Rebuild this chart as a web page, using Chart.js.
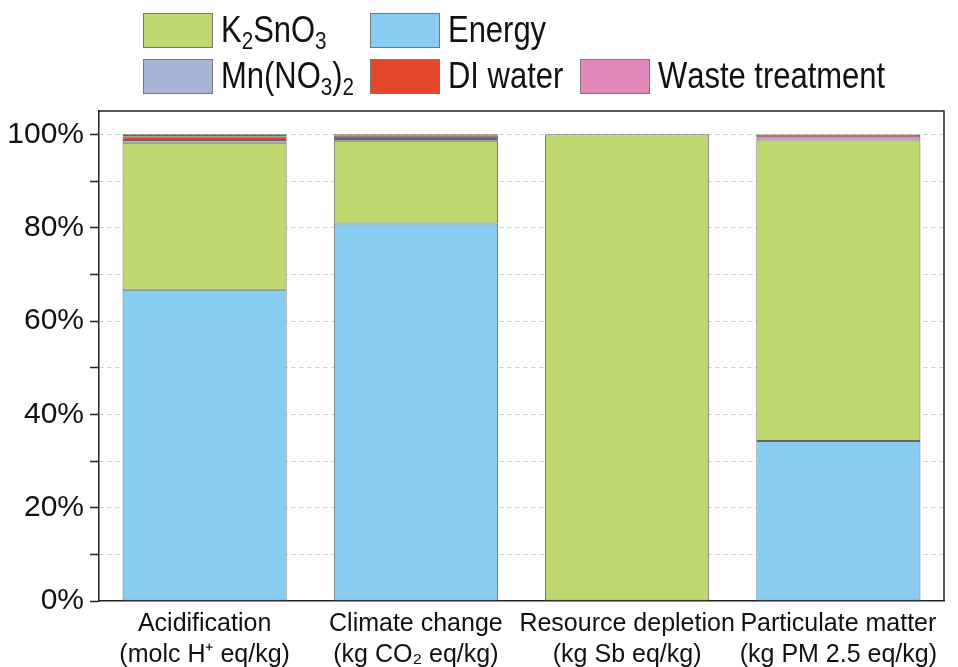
<!DOCTYPE html>
<html>
<head>
<meta charset="utf-8">
<script src="https://cdn.jsdelivr.net/npm/chart.js@4.4.1/dist/chart.umd.min.js"></script>
<style>
  html, body { margin: 0; padding: 0; background: #fff; }
  #wrap { width: 958px; height: 667px; position: relative; }
</style>
</head>
<body>
<div id="wrap"><canvas id="c"></canvas></div>
<script>
// ---- data ----
const categories = [
  ['Acidification', '(molc H\u207A eq/kg)'],
  ['Climate change', '(kg CO\u2082 eq/kg)'],
  ['Resource depletion', '(kg Sb eq/kg)'],
  ['Particulate matter', '(kg PM 2.5 eq/kg)']
];
const energy = [66.7, 80.9, 0, 34.3];
const k2sno3 = [31.5, 17.7, 100, 64.4];
const wasteTreatment = [0.6, 0.4, 0, 0.7];
const diWater = [0.8, 0.7, 0, 0.5];
const mnNO3 = [0.4, 0.3, 0, 0.1];
const yTickValues = [0, 20, 40, 60, 80, 100];

// ---- styles ----
const colors = {
  energy: '#88CCEF',
  k2sno3: '#BED76E',
  waste: '#E189BA',
  di: '#E4472A',
  mn: '#A7B4D8'
};

const datasets = [
  { label: 'Energy', data: energy, backgroundColor: colors.energy },
  { label: 'K\u2082SnO\u2083', data: k2sno3, backgroundColor: colors.k2sno3 },
  { label: 'Waste treatment', data: wasteTreatment, backgroundColor: colors.waste },
  { label: 'DI water', data: diWater, backgroundColor: colors.di },
  { label: 'Mn(NO\u2083)\u2082', data: mnNO3, backgroundColor: colors.mn }
].map(d => Object.assign(d, {
  borderColor: '#666', borderWidth: 1, borderSkipped: false,
  categoryPercentage: 1, barPercentage: 0.777
}));

// legend layout: rows of [datasetLabel, boxX]
const legendRows = [
  { y: 13, items: [['K\u2082SnO\u2083', 143], ['Energy', 370]] },
  { y: 59, items: [['Mn(NO\u2083)\u2082', 143], ['DI water', 370], ['Waste treatment', 580]] }
];

const subMap = {'\u2080':'0','\u2081':'1','\u2082':'2','\u2083':'3','\u2084':'4','\u2085':'5','\u2086':'6','\u2087':'7','\u2088':'8','\u2089':'9'};

function drawRichText(ctx, text, x, baseline, size) {
  let cx = x;
  for (const ch of text) {
    if (subMap[ch]) {
      ctx.font = `${Math.round(size * 0.68)}px "Liberation Sans", Arial, sans-serif`;
      ctx.fillText(subMap[ch], cx, baseline + size * 0.2);
      cx += ctx.measureText(subMap[ch]).width;
    } else {
      ctx.font = `${size}px "Liberation Sans", Arial, sans-serif`;
      ctx.fillText(ch, cx, baseline);
      cx += ctx.measureText(ch).width;
    }
  }
}

const legendPlugin = {
  id: 'customLegend',
  afterDraw(chart) {
    const ctx = chart.ctx;
    const byLabel = {};
    chart.data.datasets.forEach(d => byLabel[d.label] = d);
    ctx.save();
    legendRows.forEach(row => {
      row.items.forEach(([label, bx]) => {
        const ds = byLabel[label];
        ctx.fillStyle = ds.backgroundColor;
        ctx.fillRect(bx, row.y, 70, 35);
        ctx.strokeStyle = '#777';
        ctx.lineWidth = 1;
        ctx.strokeRect(bx + 0.5, row.y + 0.5, 69, 34);
        ctx.fillStyle = '#111';
        ctx.textBaseline = 'alphabetic';
        ctx.textAlign = 'left';
        ctx.save();
        const tx = bx + 78;
        ctx.translate(tx, 0);
        ctx.scale(0.86, 1);
        drawRichText(ctx, label, 0, row.y + 29, 36);
        ctx.restore();
      });
    });
    ctx.restore();
  }
};

const framePlugin = {
  id: 'frame',
  afterDatasetsDraw(chart) {
    const { ctx, chartArea: a } = chart;
    ctx.save();
    ctx.strokeStyle = '#222';
    ctx.lineWidth = 1.5;
    ctx.beginPath();
    ctx.moveTo(a.left, a.top);
    ctx.lineTo(a.right, a.top);
    ctx.lineTo(a.right, a.bottom);
    ctx.stroke();
    ctx.restore();
  }
};

new Chart(document.getElementById('c'), {
  type: 'bar',
  data: { labels: categories, datasets },
  plugins: [legendPlugin, framePlugin],
  options: {
    responsive: true,
    maintainAspectRatio: false,
    animation: false,
    layout: { padding: { top: 111, right: 14, bottom: 0, left: 0 } },
    plugins: { legend: { display: false }, tooltip: { enabled: false } },
    scales: {
      x: {
        stacked: true,
        grid: { display: false, drawTicks: false },
        border: { display: true, color: '#222', width: 1.5 },
        ticks: {
          color: '#111',
          padding: 8,
          maxRotation: 0,
          autoSkip: false,
          font: { family: '"Liberation Sans", Arial, sans-serif', size: 25, lineHeight: 1.22 }
        },
        afterFit: s => { s.height = 66; }
      },
      y: {
        stacked: true,
        min: 0,
        max: 105,
        afterFit: s => { s.width = 99; },
        grid: {
          color: ctx => ctx.tick && ctx.tick.value === 0 ? 'rgba(0,0,0,0)' : '#cfcfcf',
          lineWidth: 1,
          tickColor: '#222',
          tickLength: 9,
          tickWidth: 1.5,
          tickBorderDash: []
        },
        border: { display: true, color: '#222', width: 1.5, dash: [4, 4] },
        ticks: {
          stepSize: 10,
          includeBounds: false,
          padding: 6,
          color: '#111',
          font: { family: '"Liberation Sans", Arial, sans-serif', size: 30 },
          callback: v => yTickValues.includes(v) ? v + '%' : ''
        }
      }
    }
  }
});
</script>
</body>
</html>
